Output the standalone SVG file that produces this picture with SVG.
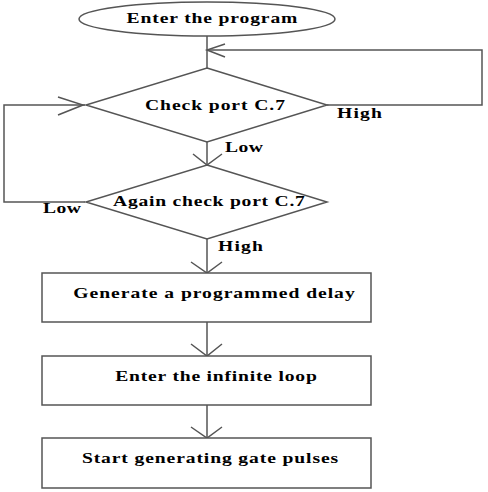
<svg xmlns="http://www.w3.org/2000/svg" width="488" height="492" viewBox="0 0 488 492">
<style>
.s{fill:none;stroke:#555;stroke-width:1.5}
.b{fill:#fff;stroke:#555;stroke-width:1.5}
.t{font-family:"Liberation Serif","Times New Roman",serif;font-weight:bold;font-size:14px;fill:#000;text-anchor:middle}
.l{font-family:"Liberation Serif","Times New Roman",serif;font-weight:bold;font-size:14px;fill:#000}
</style>
<rect width="488" height="492" fill="#fff"/>
<g id="connectors">
<path class="s" d="M207,36 V68"/>
<path class="s" d="M327,105 H482 V50 H207"/>
<path class="s" d="M225,44 L207,50 L225,57"/>
<path class="s" d="M207,142 V165"/>
<path class="s" d="M193,154 L207,165 L222,154"/>
<path class="s" d="M85,202 H4 V105 H85"/>
<path class="s" d="M58,97 L83,105 L58,115"/>
<path class="s" d="M207,239 V273"/>
<path class="s" d="M191,262 L207,273 L222,262"/>
<path class="s" d="M207,322 V356"/>
<path class="s" d="M191,344 L207,356 L222,344"/>
<path class="s" d="M207,405 V438"/>
<path class="s" d="M191,427 L207,438 L222,427"/>
<text class="l" transform="translate(337,118) scale(1.4,1)" textLength="32" lengthAdjust="spacing">High</text>
<text class="l" transform="translate(225,152) scale(1.4,1)" textLength="27" lengthAdjust="spacing">Low</text>
<text class="l" transform="translate(43,213) scale(1.4,1)" textLength="27" lengthAdjust="spacing">Low</text>
<text class="l" transform="translate(218,251) scale(1.4,1)" textLength="32" lengthAdjust="spacing">High</text>
</g>
<g id="start">
<ellipse class="b" cx="207" cy="19" rx="128" ry="17"/>
<text class="t" transform="translate(212,23) scale(1.4,1)" textLength="122" lengthAdjust="spacing">Enter the program</text>
</g>
<g id="check1">
<polygon class="b" points="207,68 327,105 207,142 86,105"/>
<text class="t" transform="translate(215,110) scale(1.4,1)" textLength="100" lengthAdjust="spacing">Check port C.7</text>
</g>
<g id="check2">
<polygon class="b" points="207,165 327,202 207,239 86,202"/>
<text class="t" transform="translate(209,206) scale(1.4,1)" textLength="137" lengthAdjust="spacing">Again check port C.7</text>
</g>
<g id="delay">
<rect class="b" x="42" y="273" width="329" height="49"/>
<text class="t" transform="translate(214,298) scale(1.4,1)" textLength="201" lengthAdjust="spacing">Generate a programmed delay</text>
</g>
<g id="loop">
<rect class="b" x="42" y="356" width="329" height="49"/>
<text class="t" transform="translate(216,381) scale(1.4,1)" textLength="144" lengthAdjust="spacing">Enter the infinite loop</text>
</g>
<g id="pulses">
<rect class="b" x="42" y="438" width="329" height="50"/>
<text class="t" transform="translate(210,463) scale(1.4,1)" textLength="183" lengthAdjust="spacing">Start generating gate pulses</text>
</g>
</svg>
